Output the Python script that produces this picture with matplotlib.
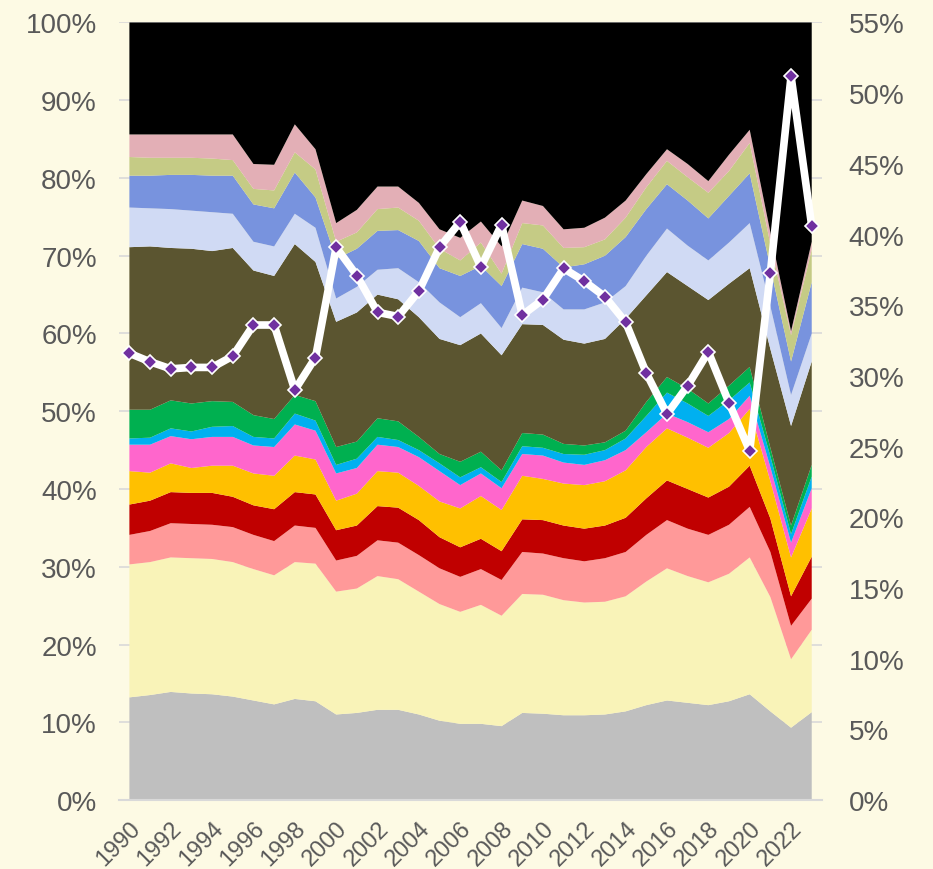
import numpy as np
import matplotlib
matplotlib.use('Agg')
import matplotlib.pyplot as plt
from matplotlib.ticker import PercentFormatter

plt.rcParams['font.family'] = ['Liberation Sans', 'DejaVu Sans']

# years on the category axis
years = list(range(1990, 2024))

# stacked shares (%), bottom to top
gray = [13.2, 13.5, 13.9, 13.7, 13.6, 13.3, 12.8, 12.3, 13.0, 12.7, 11.0, 11.2, 11.6, 11.6, 11.0, 10.2, 9.8,
        9.8, 9.5, 11.2, 11.1, 10.9, 10.9, 11.0, 11.4, 12.2, 12.8, 12.5, 12.2, 12.7, 13.6, 11.4, 9.3, 11.3]
cream = [17.1, 17.1, 17.3, 17.4, 17.4, 17.3, 16.9, 16.6, 17.6, 17.7, 15.8, 16.0, 17.2, 16.8, 15.8, 15.0, 14.4,
         15.3, 14.2, 15.3, 15.3, 14.8, 14.5, 14.5, 14.8, 15.9, 17.0, 16.3, 15.8, 16.4, 17.6, 14.7, 8.8, 10.6]
salmon = [3.8, 4.0, 4.4, 4.4, 4.4, 4.5, 4.4, 4.4, 4.7, 4.6, 4.0, 4.2, 4.6, 4.7, 4.7, 4.6, 4.5,
          4.6, 4.6, 5.4, 5.3, 5.4, 5.3, 5.6, 5.7, 6.0, 6.2, 6.1, 6.1, 6.3, 6.5, 5.8, 4.3, 4.0]
darkred = [3.9, 3.9, 4.0, 4.0, 4.1, 3.9, 3.8, 4.1, 4.3, 4.3, 3.9, 3.9, 4.4, 4.5, 4.5, 4.0, 3.8,
           3.9, 3.7, 4.2, 4.3, 4.2, 4.2, 4.2, 4.4, 4.7, 5.1, 5.1, 4.8, 4.9, 5.3, 4.3, 3.8, 5.4]
gold = [4.3, 3.6, 3.7, 3.2, 3.5, 4.0, 4.1, 4.3, 4.7, 4.5, 3.8, 4.1, 4.5, 4.5, 4.4, 4.6, 5.0,
        5.5, 5.3, 5.6, 5.3, 5.4, 5.6, 5.7, 6.1, 6.6, 6.7, 6.6, 6.4, 6.9, 7.3, 4.8, 5.0, 6.2]
magenta = [3.4, 3.6, 3.5, 3.7, 3.7, 3.7, 3.6, 3.7, 4.0, 3.7, 3.5, 3.3, 3.4, 3.3, 3.7, 3.9, 3.0,
           2.9, 2.8, 2.8, 3.0, 2.7, 2.6, 2.7, 2.6, 1.9, 1.9, 2.0, 2.0, 1.8, 1.7, 1.8, 1.9, 2.6]
cyan = [0.8, 0.9, 1.0, 1.0, 1.3, 1.4, 1.1, 1.1, 1.4, 1.3, 1.1, 1.2, 1.0, 0.9, 0.9, 1.0, 1.0,
        0.8, 0.8, 1.0, 1.0, 1.1, 1.3, 1.3, 1.5, 2.1, 2.7, 2.4, 2.1, 2.4, 1.7, 1.4, 1.1, 1.5]
green = [3.7, 3.6, 3.6, 3.6, 3.3, 3.1, 2.8, 2.5, 2.4, 2.5, 2.3, 2.2, 2.4, 2.4, 1.7, 1.2, 2.0,
         2.0, 1.5, 1.7, 1.7, 1.3, 1.2, 1.0, 1.0, 1.8, 2.0, 1.9, 1.6, 1.9, 2.0, 1.1, 1.1, 1.5]
olive = [20.9, 21.0, 19.6, 19.9, 19.3, 19.8, 18.6, 18.4, 19.4, 17.9, 16.1, 16.6, 15.9, 15.7, 15.4, 14.8, 15.0,
         15.2, 14.8, 14.0, 14.1, 13.4, 13.1, 13.3, 14.4, 13.7, 13.5, 13.2, 13.3, 13.1, 12.7, 12.7, 12.8, 13.3]
lavender = [5.1, 4.9, 5.0, 4.9, 5.0, 4.4, 3.7, 3.8, 3.9, 4.4, 3.0, 3.3, 3.2, 4.0, 4.5, 4.7, 3.6,
            3.9, 3.5, 4.7, 4.2, 3.9, 4.4, 4.7, 4.2, 5.1, 5.6, 5.2, 5.1, 5.3, 5.8, 5.5, 4.0, 3.6]
blue = [4.1, 4.2, 4.4, 4.6, 4.7, 4.9, 4.8, 4.9, 5.3, 3.9, 5.1, 4.9, 5.0, 4.9, 5.3, 4.4, 5.3,
        4.8, 5.4, 5.6, 5.6, 5.4, 5.8, 6.0, 6.3, 6.0, 5.7, 5.8, 5.4, 6.0, 6.4, 5.0, 4.3, 6.6]
khaki = [2.4, 2.3, 2.2, 2.2, 2.2, 2.0, 2.0, 2.3, 2.6, 3.6, 2.2, 2.1, 2.8, 2.9, 2.6, 2.5, 2.0,
         3.0, 1.6, 2.7, 3.0, 2.5, 2.2, 2.1, 2.5, 2.8, 3.0, 3.0, 3.3, 3.2, 3.9, 3.0, 3.4, 4.2]
rose = [2.9, 3.0, 3.0, 3.0, 3.1, 3.3, 3.2, 3.3, 3.6, 2.6, 2.4, 2.9, 2.9, 2.7, 2.3, 2.5, 2.9,
        2.7, 3.5, 2.9, 2.5, 2.4, 2.5, 2.8, 2.2, 1.7, 1.5, 1.7, 1.5, 2.1, 1.7, 1.5, 0.5, 1.0]
black = [14.4, 14.4, 14.4, 14.4, 14.4, 14.4, 18.2, 18.3, 13.1, 16.3, 25.8, 24.1, 21.1, 21.1, 23.2, 26.6, 27.7,
         25.6, 28.8, 22.9, 23.6, 26.6, 26.4, 25.1, 22.9, 19.5, 16.3, 18.2, 20.4, 17.0, 13.8, 27.0, 39.7, 28.2]

# line on the secondary axis (%)
rate = [31.6, 31.0, 30.5, 30.6, 30.6, 31.4, 33.6, 33.6, 29.0, 31.3, 39.1, 37.1, 34.5, 34.2, 36.0, 39.1, 40.9,
        37.7, 40.7, 34.3, 35.4, 37.6, 36.7, 35.6, 33.8, 30.2, 27.3, 29.3, 31.7, 28.1, 24.7, 37.3, 51.2, 40.6]

layers = [gray, cream, salmon, darkred, gold, magenta, cyan, green, olive, lavender, blue, khaki, rose, black]
colors = ['#BFBFBF', '#F9F3B8', '#FF9999', '#C00000', '#FFC000', '#FF66CC', '#00B0F0', '#00B050',
          '#5B5530', '#D0DAF4', '#7893DE', '#C5CB85', '#E3AFB6', '#000000']

bg = '#FDFAE4'
txt = '#595959'

x = np.arange(len(years))

fig = plt.figure(figsize=(9.33, 8.7), dpi=100, facecolor=bg)
ax = fig.add_axes([0.1276, 0.0793, 0.7535, 0.8937])
ax.set_facecolor(bg)

ax.stackplot(x, np.array(layers) / 100, colors=colors, linewidth=0, zorder=2)

ax.set_xlim(-0.5, len(years) - 0.5)
ax.set_ylim(0, 1)
ax.set_yticks(np.arange(0, 1.01, 0.1))
ax.yaxis.set_major_formatter(PercentFormatter(1.0, decimals=0))
ax.grid(axis='y', color='#D9D9D9', linewidth=1.2, zorder=0)
ax.set_axisbelow(True)

ax.set_xticks(x[::2])
ax.set_xticklabels([str(y) for y in years[::2]], rotation=45, ha='right',
                   rotation_mode='anchor', fontsize=17, color=txt)
ax.tick_params(axis='x', length=0, pad=12)
ax.tick_params(axis='y', length=0, pad=16, labelsize=20, labelcolor=txt)

for s in ['top', 'left', 'right']:
    ax.spines[s].set_visible(False)
ax.spines['bottom'].set_color('#D9D9D9')
ax.spines['bottom'].set_linewidth(1.5)

ax2 = ax.twinx()
ax2.set_ylim(0, 0.55)
ax2.set_yticks(np.arange(0, 0.551, 0.05))
ax2.yaxis.set_major_formatter(PercentFormatter(1.0, decimals=0))
ax2.tick_params(axis='y', length=0, pad=19, labelsize=20, labelcolor=txt)
for s in ax2.spines.values():
    s.set_visible(False)

ax2.plot(x, np.array(rate) / 100, color='white', linewidth=5.5, marker='D', markersize=7,
         markerfacecolor='#7030A0', markeredgecolor='white', markeredgewidth=1.2, zorder=5)

fig.savefig('out.png', dpi=100, facecolor=bg)
